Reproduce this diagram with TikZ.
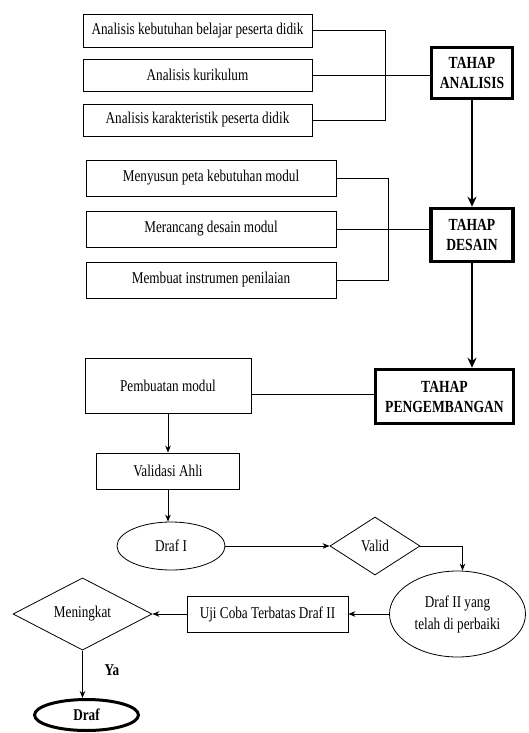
\documentclass[tikz,border=0pt]{standalone}
\usepackage{fontspec}
\setmainfont{Liberation Serif}
\newcommand{\nar}[1]{\scalebox{0.8}[1]{#1}}
\usetikzlibrary{shapes.geometric,arrows.meta}
\begin{document}
\begin{tikzpicture}[x=1pt,y=-1pt,
  box/.style={draw, line width=0.8pt, inner sep=0pt, font=\fontsize{16.5}{19}\selectfont},
  stage/.style={draw, line width=3.5pt, align=center, inner sep=0pt, font=\bfseries\fontsize{17}{20}\selectfont},
  dec/.style={draw, diamond, line width=0.8pt, inner sep=0pt, font=\fontsize{16.5}{19}\selectfont},
  ell/.style={draw, ellipse, line width=0.8pt, inner sep=0pt, align=center, font=\fontsize{16.5}{22}\selectfont},
  line/.style={line width=0.8pt},
  arr/.style={line width=0.8pt, -{Stealth[length=7pt,width=5.5pt]}},
  thickarr/.style={line width=2.5pt, -{Stealth[length=10pt,width=9pt]}}]
\useasboundingbox[fill=white] (0,0) rectangle (528,733);

% Analisis
\node[box, minimum width=229pt, minimum height=33pt] (a1) at (197.5,30.5) {\nar{Analisis kebutuhan belajar peserta didik}};
\node[box, minimum width=229pt, minimum height=32pt] (a2) at (197.5,75) {\nar{Analisis kurikulum}};
\node[box, minimum width=229pt, minimum height=32pt] (a3) at (197.5,120) {\nar{Analisis karakteristik peserta didik}};
\node[stage, minimum width=81pt, minimum height=51pt] (ta) at (472,73) {\nar{TAHAP}\\\nar{ANALISIS}};
\coordinate (ja) at (385,0);
\draw[line] (a1.east) -- (a1.east -| ja) -- (a3.east -| ja) -- (a3.east);
\draw[line] (a2.east) -- (a2.east -| ta.west);

% Desain
\node[box, minimum width=250pt, minimum height=36pt] (d1) at (211,178) {\nar{Menyusun peta kebutuhan modul}};
\node[box, minimum width=250pt, minimum height=36pt] (d2) at (211,229) {\nar{Merancang desain modul}};
\node[box, minimum width=250pt, minimum height=36pt] (d3) at (211,280) {\nar{Membuat instrumen penilaian}};
\node[stage, minimum width=82pt, minimum height=53pt] (td) at (472,235) {\nar{TAHAP}\\\nar{DESAIN}};
\coordinate (jd) at (388,0);
\draw[line] (d1.east) -- (d1.east -| jd) -- (d3.east -| jd) -- (d3.east);
\draw[line] (d2.east) -- (d2.east -| td.west);

\draw[thickarr] (ta.south) -- (td.north);

% Pengembangan
\node[stage, minimum width=138pt, minimum height=54pt] (tp) at (444.5,396.5) {\nar{TAHAP}\\\nar{PENGEMBANGAN}};
\draw[thickarr] (td.south) -- (td.south |- tp.north);
\node[box, minimum width=166pt, minimum height=55pt] (p1) at (168,385.5) {\nar{Pembuatan modul}};
\coordinate (pe) at ([yshift=-8.5pt]p1.east);
\draw[line] (pe) -- (pe -| tp.west);

\node[box, minimum width=143pt, minimum height=36pt] (v1) at (168,471) {\nar{Validasi Ahli}};
\draw[arr] (p1.south) -- (v1.north);

\node[ell, minimum width=108pt, minimum height=48pt] (dr1) at (171,546) {\nar{Draf I}};
\draw[arr] (v1.south) -- (v1.south |- dr1.north);

\node[dec, minimum width=90pt, minimum height=58pt] (val) at (375,546) {\nar{Valid}};
\draw[arr] (dr1.east) -- (val.west);

\node[ell, minimum width=136pt, minimum height=86pt] (dr2) at (457.5,614) {\nar{Draf II yang}\\\nar{telah di perbaiki}};
\draw[arr] (val.east) -| ([xshift=5pt]dr2.north);

\node[box, minimum width=161pt, minimum height=36pt] (uji) at (267.5,614) {\nar{Uji Coba Terbatas Draf II}};
\draw[arr] (dr2.west) -- (uji.east);

\node[dec, minimum width=139pt, minimum height=70pt] (men) at (82.5,614) {\nar{Meningkat}};
\draw[arr] (uji.west) -- (men.east);

\node[ell, line width=3pt, minimum width=104pt, minimum height=31pt, font=\bfseries\fontsize{16.5}{19}\selectfont] (df) at (86.5,715) {\nar{Draf}};
\draw[arr] (men.south) -- (men.south |- df.north);
\node[font=\bfseries\fontsize{16.5}{19}\selectfont] (ya) at (112,670) {\nar{Ya}};
\end{tikzpicture}
\end{document}
